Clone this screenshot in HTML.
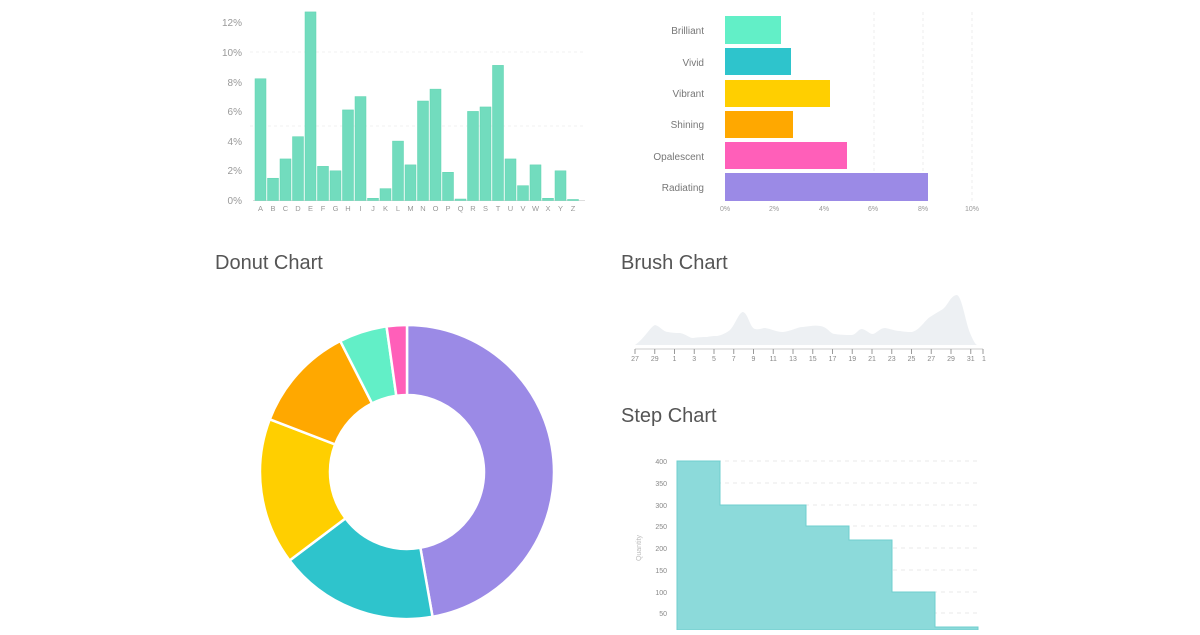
<!DOCTYPE html>
<html><head><meta charset="utf-8"><style>
body{margin:0;background:#fff;width:1200px;height:630px;overflow:hidden;font-family:"Liberation Sans",sans-serif}
</style></head><body>
<svg width="1200" height="630" xmlns="http://www.w3.org/2000/svg" font-family="Liberation Sans, sans-serif">
<g stroke="#f2f2f2" stroke-dasharray="3,3"><line x1="250" y1="52" x2="585" y2="52"/><line x1="250" y1="126" x2="585" y2="126"/></g>
<line x1="253" y1="200.5" x2="585" y2="200.5" stroke="#ddd"/>
<g font-size="10" fill="#999" text-anchor="end">
<text x="242" y="204">0%</text><text x="242" y="174">2%</text><text x="242" y="145">4%</text><text x="242" y="115">6%</text><text x="242" y="86">8%</text><text x="242" y="56">10%</text><text x="242" y="26">12%</text>
</g>
<g id="bars" fill="#72dcbe" stroke="#5fd3b0" stroke-width="0.5"></g>
<g id="blabels" font-size="7.5" fill="#999" text-anchor="middle"></g>
<g stroke="#eee" stroke-dasharray="3,3"><line x1="874" y1="12" x2="874" y2="202"/><line x1="923" y1="12" x2="923" y2="202"/><line x1="972" y1="12" x2="972" y2="202"/></g>
<rect x="725" y="16" width="56" height="28" fill="#62efc7"/>
<rect x="725" y="48" width="66" height="27" fill="#2ec4cc"/>
<rect x="725" y="80" width="105" height="27" fill="#ffcf00"/>
<rect x="725" y="111" width="68" height="27" fill="#ffa800"/>
<rect x="725" y="142" width="122" height="27" fill="#ff5fb9"/>
<rect x="725" y="173" width="203" height="28" fill="#9b8ae6"/>
<g font-size="10" fill="#777" text-anchor="end">
<text x="704" y="34">Brilliant</text><text x="704" y="66">Vivid</text><text x="704" y="97">Vibrant</text><text x="704" y="128">Shining</text><text x="704" y="160">Opalescent</text><text x="704" y="191">Radiating</text>
</g>
<g font-size="7" fill="#999" text-anchor="middle">
<text x="725" y="211">0%</text><text x="774" y="211">2%</text><text x="824" y="211">4%</text><text x="873" y="211">6%</text><text x="923" y="211">8%</text><text x="972" y="211">10%</text>
</g>
<g font-size="20" fill="#555">
<text x="215" y="269">Donut Chart</text><text x="621" y="269">Brush Chart</text><text x="621" y="422">Step Chart</text>
</g>
<g id="donut" stroke="#fff" stroke-width="2.5"></g>
<path fill="#edf0f3" d="M635,345 C645,338 650,327 655,325 C660,326 663,332 668,332 C674,333 676,333 680,333 C686,334 689,338 693,338 C700,337 705,337 707,337 C712,336 714,336 717,336 C722,335 726,333 730,330 C735,325 739,312 743,312 C748,313 750,328 755,329 C760,330 762,328 765,328 C772,329 776,332 783,332 C792,331 797,327 803,327 C810,326 815,325 820,326 C828,327 830,334 835,334 C842,335 848,335 852,335 C857,334 858,329 862,329 C867,330 869,334 873,334 C877,333 880,328 885,328 C891,329 896,331 900,331 C906,332 909,332 912,332 C920,330 925,320 930,317 C936,313 940,311 943,309 C948,305 951,295 957,295 C962,297 965,320 970,333 C973,340 975,344 977,345 Z"/>
<line x1="635" y1="349" x2="983" y2="349" stroke="#ccc"/>
<g id="brushticks" stroke="#999"></g>
<g id="brushlabels" font-size="7" fill="#888" text-anchor="middle"></g>
<g stroke="#e8e8e8" stroke-dasharray="4,4">
<line x1="677" y1="461" x2="980" y2="461"/><line x1="677" y1="483" x2="980" y2="483"/><line x1="677" y1="505" x2="980" y2="505"/><line x1="677" y1="526" x2="980" y2="526"/><line x1="677" y1="548" x2="980" y2="548"/><line x1="677" y1="570" x2="980" y2="570"/><line x1="677" y1="592" x2="980" y2="592"/><line x1="677" y1="613" x2="980" y2="613"/>
</g>
<path fill="#8cdada" stroke="#6fcfcf" stroke-width="1" d="M677,630 L677,461 L720,461 L720,505 L806,505 L806,526 L849,526 L849,540 L892,540 L892,592 L935,592 L935,627 L978,627 L978,630 Z"/>
<g font-size="7" fill="#888" text-anchor="end">
<text x="667" y="464">400</text><text x="667" y="486">350</text><text x="667" y="508">300</text><text x="667" y="529">250</text><text x="667" y="551">200</text><text x="667" y="573">150</text><text x="667" y="595">100</text><text x="667" y="616">50</text>
</g>
<text x="641" y="548" font-size="7" fill="#bbb" text-anchor="middle" transform="rotate(-90 641 548)">Quantity</text>
</svg>
<script>
const ns="http://www.w3.org/2000/svg";
function el(t,a,p,txt){const e=document.createElementNS(ns,t);for(const k in a)e.setAttribute(k,a[k]);if(txt!==undefined)e.textContent=txt;document.getElementById(p).appendChild(e);}
const vals=[8.2,1.5,2.8,4.3,12.7,2.3,2.0,6.1,7.0,0.15,0.8,4.0,2.4,6.7,7.5,1.9,0.1,6.0,6.3,9.1,2.8,1.0,2.4,0.15,2.0,0.07];
const L="ABCDEFGHIJKLMNOPQRSTUVWXYZ";
vals.forEach((v,i)=>{const cx=260.5+i*12.5;const h=v*14.85;el("rect",{x:cx-5.5,y:200.5-h,width:11,height:h},"bars");el("text",{x:cx,y:211},"blabels",L[i]);});
const labs=["27","29","1","3","5","7","9","11","13","15","17","19","21","23","25","27","29","31"];
labs.forEach((t,i)=>{const x=635+i*19.75;el("line",{x1:x,y1:349,x2:x,y2:354},"brushticks");el("text",{x:x,y:361},"brushlabels",t);});
el("line",{x1:983,y1:349,x2:983,y2:354},"brushticks");el("text",{x:984,y:361},"brushlabels","1");
const cx=407,cy=472,R=147,r=77;
const sl=[[0,170,"#9b8ae6"],[170,233,"#2ec4cc"],[233,291,"#ffcf00"],[291,333,"#ffa800"],[333,352,"#62efc7"],[352,360,"#ff5fb9"]];
function pt(a,rad){a=a*Math.PI/180;return [cx+rad*Math.sin(a),cy-rad*Math.cos(a)];}
sl.forEach(([a,b,c])=>{const p1=pt(a,R),p2=pt(b,R),p3=pt(b,r),p4=pt(a,r);const lg=(b-a)>180?1:0;
el("path",{d:`M${p1} A${R},${R} 0 ${lg} 1 ${p2} L${p3} A${r},${r} 0 ${lg} 0 ${p4} Z`,fill:c},"donut");});
</script>
</body></html>
